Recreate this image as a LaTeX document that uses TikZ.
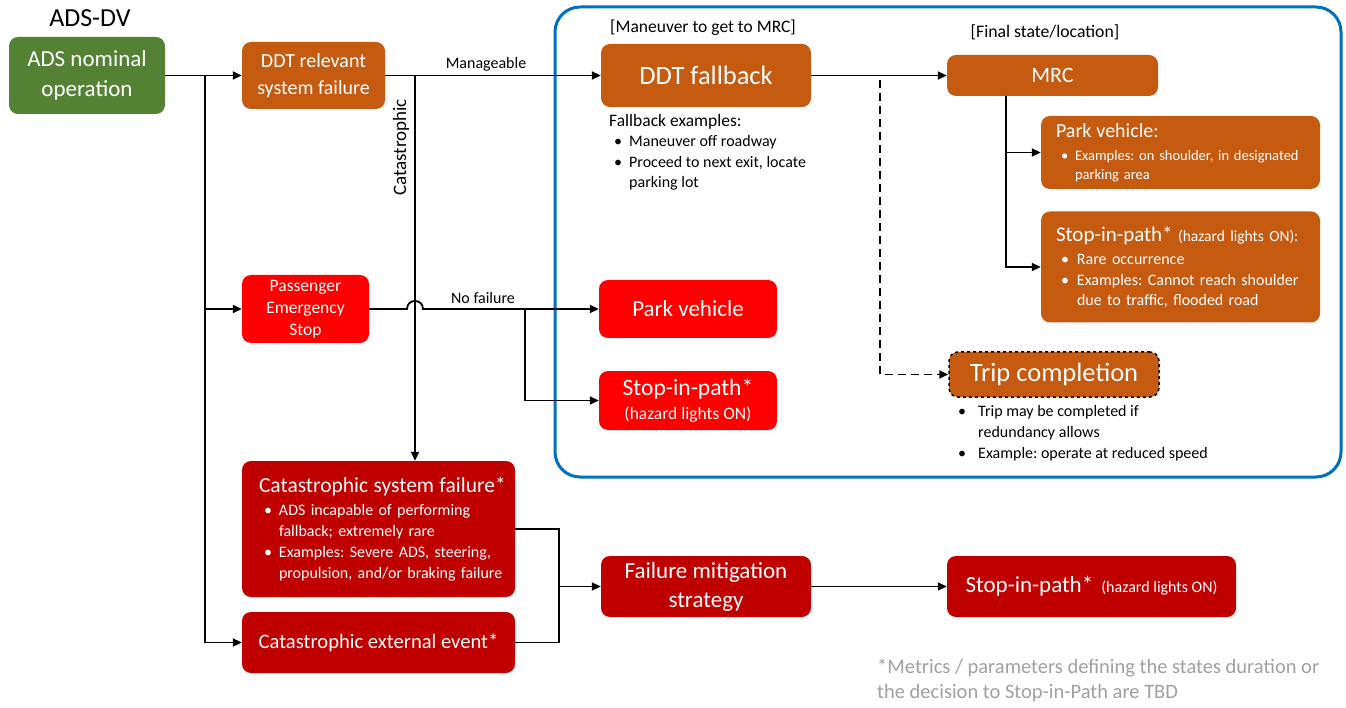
\documentclass[tikz,border=0pt]{standalone}
\usepackage{fontspec}
\setmainfont{Carlito}
\usetikzlibrary{arrows.meta}
\definecolor{cGreen}{HTML}{548235}
\definecolor{cOrange}{HTML}{C55A11}
\definecolor{cRed}{HTML}{FF0000}
\definecolor{cDark}{HTML}{C00000}
\definecolor{cBlue}{HTML}{0070C0}
\definecolor{cFoot}{HTML}{A0A0A0}
\newcommand\fs[2]{\fontsize{#1}{#2}\selectfont}
\newcommand\bl[1]{\makebox[#1pt][l]{\hspace{5pt}•}}
\frenchspacing
\begin{document}
\begin{tikzpicture}[x=1pt,y=-1pt,
  box/.style={rounded corners=9pt, inner sep=0pt, text=white, align=center, draw=none},
  conn/.style={line width=1.8pt, -{Triangle[length=9pt,width=8pt]}},
  plain/.style={line width=1.8pt},
  lbl/.style={inner sep=0pt, text=black}]
\useasboundingbox (0,0) rectangle (1346,708);

% blue frame
\draw[cBlue, line width=3pt, rounded corners=25pt] (555,7) rectangle (1341,477);

% title
\node[lbl, font=\fs{26}{30}] (title) at (90,18) {ADS-DV};

% boxes
\node[box, fill=cGreen, minimum width=156pt, minimum height=77pt, font=\fs{23}{30}] (ads) at (87,75.5) {ADS nominal\\operation};
\node[box, fill=cOrange, minimum width=143pt, minimum height=67pt, font=\fs{20}{27}] (ddtrel) at (313.5,75.5) {DDT relevant\\system failure};
\node[box, fill=cRed, minimum width=127pt, minimum height=68pt, font=\fs{17.5}{22}] (pes) at (305.5,309) {Passenger\\Emergency\\Stop};
\node[box, fill=cRed, minimum width=178pt, minimum height=58pt, font=\fs{23}{26}] (parkR) at (688,309) {Park vehicle};
\node[box, fill=cRed, minimum width=178pt, minimum height=59pt, font=\fs{17.5}{24}] (stopR) at (688,400.5) {{\fs{23.5}{24}Stop-in-path*}\\(hazard lights ON)};
\node[box, fill=cOrange, minimum width=210pt, minimum height=63pt, font=\fs{26.5}{30}] (ddtfb) at (706,75.5) {DDT fallback};
\node[box, fill=cOrange, minimum width=211pt, minimum height=41pt, font=\fs{22}{26}] (mrc) at (1052.5,75.5) {MRC};
\node[box, fill=cOrange, minimum width=279pt, minimum height=73pt, text width=249pt, inner xsep=15pt, align=left, font=\fs{14.5}{19}] (parkO) at (1180.5,152.5)
  {{\fs{20}{19}Park vehicle:}\\[4pt]
   \bl{19}\mbox{Examples: on shoulder, in designated}\\
   \hspace*{19pt}parking area};
\node[box, fill=cOrange, minimum width=279pt, minimum height=111pt, text width=249pt, inner xsep=15pt, align=left, font=\fs{16}{20.5}] (stopO) at (1180.5,267)
  {{\fs{21}{20}Stop-in-path*}~{\fs{15.5}{15}(hazard lights ON):}\\[3pt]
   \bl{21}Rare occurrence\\
   \bl{21}\mbox{Examples: Cannot reach shoulder}\\
   \hspace*{21pt}due to traffic, flooded road};
\node[box, fill=cOrange, draw=black, dashed, line width=1.5pt, minimum width=210pt, minimum height=45pt, font=\fs{26.5}{30}] (trip) at (1054,374.5) {Trip completion};
\node[box, fill=cDark, minimum width=273pt, minimum height=136pt, text width=239pt, inner xsep=17pt, align=left, font=\fs{16}{21}] (catsys) at (378.5,529)
  {\mbox{\fs{21.5}{21}Catastrophic system failure*}\\[2pt]
   \bl{20}\mbox{ADS incapable of performing}\\
   \hspace*{20pt}\mbox{fallback; extremely rare}\\
   \bl{20}\mbox{Examples: Severe ADS, steering,}\\
   \hspace*{20pt}\mbox{propulsion, and/or braking failure}};
\node[box, fill=cDark, minimum width=273pt, minimum height=61pt, font=\fs{20.6}{24}] (catext) at (378.5,642.5) {Catastrophic external event*};
\node[box, fill=cDark, minimum width=210pt, minimum height=61pt, font=\fs{23}{29}] (fms) at (706,586.5) {Failure mitigation\\strategy};
\node[box, fill=cDark, minimum width=289pt, minimum height=61pt, font=\fs{23}{24}] (stopD) at (1091.5,586.5) {Stop-in-path*\hspace{8pt}{\fs{16}{16}(hazard lights ON)}};

% free texts
\node[lbl, font=\fs{16}{18}] (manlbl) at (486,64) {Manageable};
\node[lbl, font=\fs{16}{18}] (nflbl) at (483,298) {No failure};
\node[lbl, rotate=90, font=\fs{19}{20}] (catlbl) at (401,147.5) {Catastrophic};
\node[lbl, font=\fs{17.5}{20}] (manv) at (703,28) {[Maneuver to get to MRC]};
\node[lbl, font=\fs{17.7}{20}] (fin) at (1045,32) {[Final state/location]};
\node[lbl, anchor=north west, align=left, font=\fs{16}{20.5}] (fbex) at (609,114)
  {{\fs{17.5}{20}Fallback examples:}\\
   \bl{20}Maneuver off roadway\\
   \bl{20}Proceed to next exit, locate\\
   \hspace*{20pt}parking lot};
\node[lbl, anchor=north west, align=left, font=\fs{16}{21}] (tripex) at (953,405)
  {\bl{25}Trip may be completed if\\
   \hspace*{25pt}redundancy allows\\
   \bl{25}Example: operate at reduced speed};
\node[lbl, anchor=north west, align=left, text=cFoot, font=\fs{20.5}{25}] (foot) at (877,659)
  {*Metrics / parameters defining the states duration or\\
   the decision to Stop-in-Path are TBD};

% connectors
\coordinate (t1) at (205,75.5);
\draw[conn] (ads.east) -- (ddtrel.west);
\draw[conn] (t1) |- (pes.west);
\draw[conn] (t1) |- (catext.west);
\draw[conn] (ddtrel.east) -- (ddtfb.west);
\coordinate (c1) at (415,75.5);
\draw[conn] (c1) -- (c1 |- catsys.north);
\coordinate (j1) at (407,309);
\coordinate (j2) at (423,309);
\draw[conn] (pes.east) -- (j1) .. controls (407,298.3) and (423,298.3) .. (j2) -- (parkR.west);
\coordinate (b1) at (525,309);
\draw[conn] (b1) |- (stopR.west);
\draw[conn] (ddtfb.east) -- (mrc.west);
\coordinate (d1) at (880,80);
\draw[conn, dash pattern=on 8pt off 5pt] (d1) |- (trip.west);
\coordinate (m1) at (1006,96);
\draw[conn] (m1) |- (parkO.west);
\draw[conn] (m1) |- (stopO.west);
\coordinate (k1) at (559,586.5);
\draw[plain] (catsys.east) -| (k1);
\draw[plain] (catext.east) -| (k1);
\draw[conn] (k1) -- (fms.west);
\draw[conn] (fms.east) -- (stopD.west);
\end{tikzpicture}
\end{document}
